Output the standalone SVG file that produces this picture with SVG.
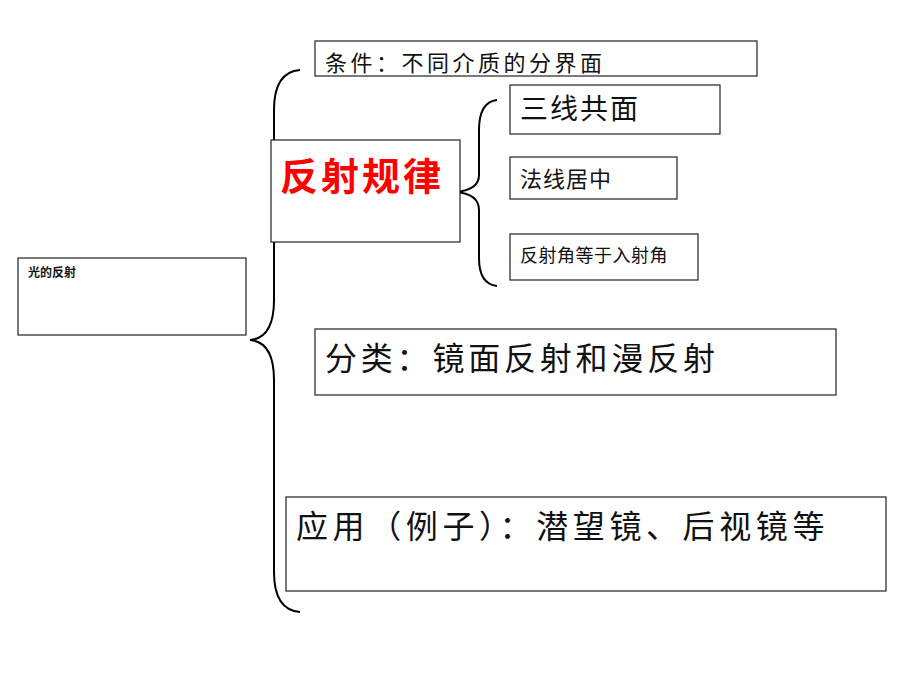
<svg xmlns="http://www.w3.org/2000/svg" width="920" height="690" viewBox="0 0 920 690">
<style>
.box{fill:#fff;stroke:#222;stroke-width:1.2}
.t{font-family:"Liberation Serif","Noto Sans CJK SC",serif;fill:#111}
.br{fill:none;stroke:#000;stroke-width:2}
</style>
<rect width="920" height="690" fill="#fff"/>
<g id="connectors">
<path class="br" d="M300,70 Q274,72 274,110 L274,300 Q274,338 250,340 Q274,342 274,380 L274,572 Q274,610 300,612"/>
<path class="br" d="M497,100 Q479,102 479,130 L479,175 Q479,190 456,192 Q479,194 479,210 L479,258 Q479,284 497,286"/>
</g>
<g id="n0"><rect class="box" x="18" y="258" width="228" height="77"/><text class="t" x="28" y="277" font-size="12" font-weight="bold" font-family="Liberation Sans,Noto Sans CJK SC,sans-serif">光的反射</text></g>
<g id="n1"><rect class="box" x="315" y="41" width="442" height="35"/><text class="t" x="325" y="71" font-size="22" letter-spacing="3.5">条件：不同介质的分界面</text></g>
<g id="n2"><rect class="box" x="271" y="140" width="189" height="102"/><text x="280" y="190" font-size="38" font-weight="bold" fill="#f00" font-family="Noto Sans CJK SC,sans-serif" letter-spacing="3">反射规律</text></g>
<g id="n3"><rect class="box" x="510" y="85" width="210" height="49"/><text class="t" x="520" y="119" font-size="28" letter-spacing="2">三线共面</text></g>
<g id="n4"><rect class="box" x="510" y="157" width="167" height="42"/><text class="t" x="520" y="187" font-size="22" letter-spacing="1">法线居中</text></g>
<g id="n5"><rect class="box" x="510" y="234" width="188" height="46"/><text class="t" x="520" y="262" font-size="18" letter-spacing="0.5">反射角等于入射角</text></g>
<g id="n6"><rect class="box" x="315" y="329" width="521" height="66"/><text class="t" x="325" y="370" font-size="32" letter-spacing="3.8">分类：镜面反射和漫反射</text></g>
<g id="n7"><rect class="box" x="286" y="497" width="600" height="94"/><text class="t" x="296" y="538" font-size="32" letter-spacing="4.6">应用（例子）：潜望镜、后视镜等</text></g>
</svg>
